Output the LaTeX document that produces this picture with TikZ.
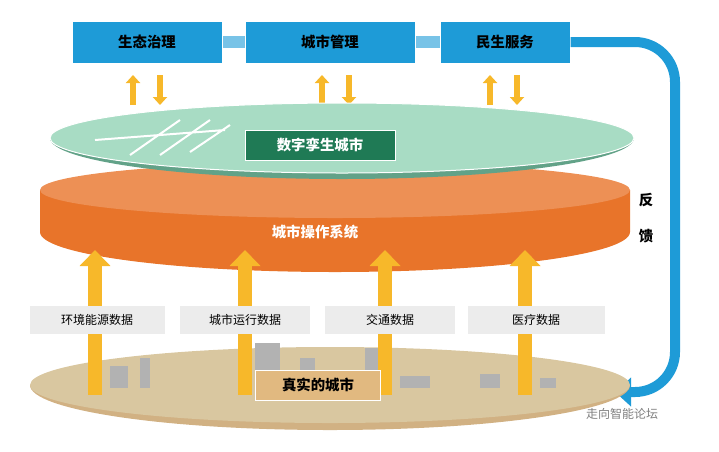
\documentclass[tikz,border=0pt]{standalone}
\usepackage{fontspec}
\setmainfont{Noto Sans CJK SC}
\usetikzlibrary{arrows.meta,positioning}
\definecolor{topblue}{HTML}{1E9BD7}
\definecolor{discgreen}{HTML}{A8DCC4}
\definecolor{darkgreen}{HTML}{1F7A55}
\definecolor{sysorange}{HTML}{E8742A}
\definecolor{arrowyellow}{HTML}{F7B82A}
\definecolor{citytan}{HTML}{D9C7A0}
\tikzset{
  topbox/.style={draw=white,line width=1pt,fill=topblue,text=black,font=\bfseries\Large,minimum width=#1,minimum height=42},
  databox/.style={fill=gray!15,font=\large,minimum width=#1,minimum height=28},
  uparrow/.style={-{Triangle[length=16pt,width=30pt]},line width=14pt,draw=arrowyellow},
  pairarrow/.style={-{Triangle[length=8pt,width=14pt]},line width=6pt,draw=arrowyellow}
}
\begin{document}
\begin{tikzpicture}[x=1pt,y=-1pt]
\useasboundingbox (0,0) rectangle (719,451);
% top row
\draw[line width=12pt,draw=topblue!60] (222,42) -- (440,42);
\node[topbox=150] (eco) at (147,42) {生态治理};
\node[topbox=170] (mgmt) at (330,42) {城市管理};
\node[topbox=130] (serv) at (505,42) {民生服务};
% feedback
\draw[line width=10pt,draw=topblue,-{Triangle[length=16pt,width=28pt]},rounded corners=40pt]
  (serv.east) -- (675,42) -- (675,392) -- (615,392);
\node[font=\bfseries\Large] (fb1) at (646,200) {反};
\node[font=\bfseries\Large] (fb2) at (646,236) {馈};
% up/down pairs
\foreach \x in {133,322,490}{
  \draw[pairarrow] (\x,105) -- (\x,75);
  \draw[pairarrow] (\x+27,75) -- (\x+27,105);
}
% orange cylinder
\fill[sysorange] (40,190) -- (40,232) arc[start angle=180,end angle=0,x radius=295,y radius=40] -- (630,190) -- cycle;
\fill[sysorange!80] (335,190) ellipse[x radius=295,y radius=28];
\node[text=white,font=\bfseries\Large] (os) at (315,232) {城市操作系统};
% green disc
\fill[darkgreen!70] (50,138) arc[start angle=180,end angle=0,x radius=292,y radius=41];
\fill[discgreen,draw=white,line width=1pt] (342,138) ellipse[x radius=292,y radius=35];
\draw[white,line width=2pt] (95,140) -- (225,130) (130,155) -- (180,120) (160,155) -- (210,120) (190,152) -- (230,125);
\node[fill=darkgreen,draw=white,text=white,font=\bfseries\Large,minimum width=150,minimum height=30] (twin) at (320,145) {数字孪生城市};
% bottom city
\fill[citytan!70!brown] (30,385) arc[start angle=180,end angle=0,x radius=300,y radius=45];
\fill[citytan] (330,385) ellipse[x radius=300,y radius=38];
\foreach \x/\w/\h in {110/18/22,140/10/30,255/25/45,300/15/30,365/14/40,400/30/12,480/20/14,540/16/10}{
  \fill[gray!60] (\x,388) rectangle ++(\w,-\h);
}
% data arrows
\foreach \x/\n in {95/a,245/b,385/c,525/d}{
  \coordinate (top\n) at (\x,250);
  \coordinate (bot\n) at (\x,395);
  \draw[uparrow] (bot\n) -- (top\n);
}
\node[databox=135] (env) at (97,320) {环境能源数据};
\node[databox=130] (run) at (245,320) {城市运行数据};
\node[databox=130] (traf) at (390,320) {交通数据};
\node[databox=137] (med) at (536,320) {医疗数据};
\node[fill=citytan!80!orange,draw=white,font=\bfseries\Large,minimum width=125,minimum height=30] (real) at (318,385) {真实的城市};
\node[text=gray,font=\large] (wm) at (622,414) {走向智能论坛};
\end{tikzpicture}
\end{document}
